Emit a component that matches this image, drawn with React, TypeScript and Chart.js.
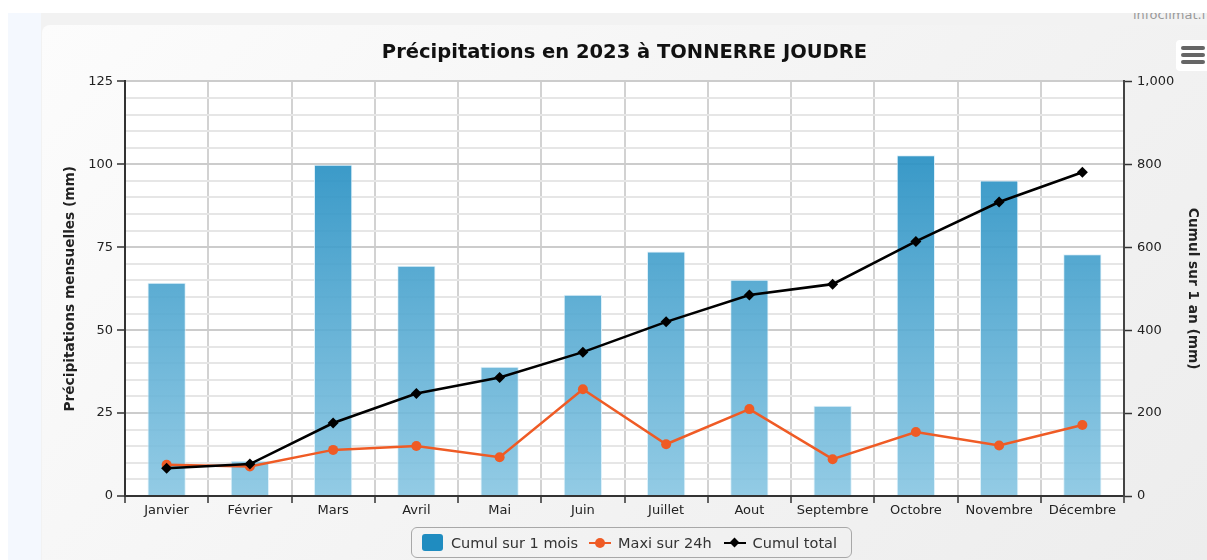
import React, { useEffect, useRef } from 'react';
import { Chart, registerables } from 'chart.js';

Chart.register(...registerables);

const titleText = 'Précipitations en 2023 à TONNERRE JOUDRE';
const months = ['Janvier', 'Février', 'Mars', 'Avril', 'Mai', 'Juin', 'Juillet', 'Aout', 'Septembre', 'Octobre', 'Novembre', 'Décembre'];
const cumulMois = [64.3, 10.6, 99.9, 69.4, 39.0, 60.7, 73.7, 65.2, 27.2, 102.7, 95.1, 72.9];
const maxi24h = [9.4, 8.9, 13.9, 15.1, 11.7, 32.2, 15.6, 26.2, 11.1, 19.3, 15.2, 21.4];
const cumulTotal = [67, 77, 176, 247, 286, 347, 420, 485, 511, 614, 709, 781];
const leftMajorTicks = [0, 25, 50, 75, 100, 125];
const rightTicks = [0, 200, 400, 600, 800, 1000];
const legendLabels = ['Cumul sur 1 mois', 'Maxi sur 24h', 'Cumul total'];

const FONT = "'DejaVu Sans', Verdana, sans-serif";

const plotBg = {
  id: 'plotBg',
  beforeDraw(chart: any) {
    const { ctx, chartArea: a } = chart;
    if (!a) return;
    ctx.save();
    ctx.fillStyle = '#ffffff';
    ctx.fillRect(a.left, a.top, a.right - a.left, a.bottom - a.top);
    ctx.restore();
  },
};

export default function App() {
  const ref = useRef<HTMLCanvasElement | null>(null);

  useEffect(() => {
    if (!ref.current) return;
    Chart.defaults.font.family = FONT;
    const isMajor = (v: number) => leftMajorTicks.includes(v);
    const chart = new Chart(ref.current, {
      type: 'bar',
      data: {
        labels: months,
        datasets: [
          {
            type: 'bar',
            label: legendLabels[0],
            data: cumulMois,
            yAxisID: 'y',
            order: 3,
            barPercentage: 0.46,
            categoryPercentage: 1,
            borderWidth: 1,
            borderColor: 'rgba(220,240,250,0.9)',
            backgroundColor: (c: any) => {
              const a = c.chart.chartArea;
              if (!a) return 'rgba(60,160,205,0.9)';
              const g = c.chart.ctx.createLinearGradient(0, a.top, 0, a.bottom);
              g.addColorStop(0, 'rgba(22,134,189,0.94)');
              g.addColorStop(1, 'rgba(132,196,225,0.88)');
              return g;
            },
          },
          {
            type: 'line',
            label: legendLabels[1],
            data: maxi24h,
            yAxisID: 'y',
            order: 2,
            borderColor: '#ef5b25',
            backgroundColor: '#ef5b25',
            borderWidth: 2.5,
            pointStyle: 'circle',
            pointRadius: 5,
            pointBorderWidth: 0,
            tension: 0,
          },
          {
            type: 'line',
            label: legendLabels[2],
            data: cumulTotal,
            yAxisID: 'y1',
            order: 1,
            borderColor: '#000000',
            backgroundColor: '#000000',
            borderWidth: 2.6,
            pointStyle: 'rectRot',
            pointRadius: 5.5,
            pointBorderWidth: 0,
            tension: 0,
          },
        ],
      },
      options: {
        animation: false,
        responsive: true,
        maintainAspectRatio: false,
        layout: { padding: { top: 0, bottom: 34, left: 0, right: 0 } },
        plugins: {
          legend: { display: false },
          tooltip: { enabled: false },
          title: {
            display: true,
            text: titleText,
            color: '#111',
            font: { size: 19.5, weight: 'bold', family: FONT },
            padding: { top: 16, bottom: 17 },
          },
        },
        scales: {
          x: {
            type: 'category',
            offset: true,
            grid: { offset: true, color: '#d2d2d2', lineWidth: 2, tickLength: 7, tickColor: '#333', tickWidth: 1.5 },
            border: { color: '#333', width: 2 },
            ticks: { color: '#222', font: { size: 13 }, padding: 0, maxRotation: 0, autoSkip: false },
            afterFit(s: any) { s.height = 30; },
          },
          y: {
            position: 'left',
            min: 0,
            max: 125,
            ticks: {
              stepSize: 5,
              autoSkip: false,
              color: '#222',
              font: { size: 13 },
              padding: 4,
              callback: (v: any) => (isMajor(Number(v)) ? String(v) : ''),
            },
            grid: {
              color: (c: any) => (c.tick && isMajor(c.tick.value) ? '#cccccc' : '#e6e6e6'),
              lineWidth: 2,
              tickLength: 8,
              tickWidth: 1.5,
              tickColor: (c: any) => (c.tick && isMajor(c.tick.value) ? '#333' : 'rgba(0,0,0,0)'),
            },
            border: { color: '#333', width: 2 },
            title: {
              display: true,
              text: 'Précipitations mensuelles (mm)',
              color: '#222',
              font: { size: 13.7, weight: 'bold' },
              padding: { top: 20, bottom: 0 },
            },
            afterFit(s: any) { s.width = 83; },
          },
          y1: {
            position: 'right',
            min: 0,
            max: 1000,
            afterBuildTicks(s: any) { s.ticks = rightTicks.map((v) => ({ value: v })); },
            ticks: { color: '#222', font: { size: 13 }, padding: 5 },
            grid: { display: true, drawOnChartArea: false, tickLength: 8, tickColor: '#333', tickWidth: 1.5 },
            border: { color: '#444', width: 2 },
            title: {
              display: true,
              text: 'Cumul sur 1 an (mm)',
              color: '#222',
              font: { size: 13.7, weight: 'bold' },
              padding: { top: 6, bottom: 0 },
            },
            afterFit(s: any) { s.width = 83; },
          },
        },
      } as any,
      plugins: [plotBg],
    } as any);
    return () => chart.destroy();
  }, []);

  const itemText: React.CSSProperties = { fontFamily: FONT, fontSize: 14.5, color: '#333', whiteSpace: 'nowrap' };

  return (
    <div style={{ position: 'fixed', left: 0, top: 0, width: 1207, height: 560, overflow: 'hidden', background: '#ffffff' }}>
      <div style={{ position: 'absolute', left: 8, top: 13, right: 0, bottom: 0, background: '#f2f2f2', overflow: 'hidden' }}>
        <div style={{ position: 'absolute', left: 1125, top: -5, fontFamily: FONT, fontSize: 13, lineHeight: '13px', color: '#9a9a9a', whiteSpace: 'nowrap' }}>infoclimat.fr</div>
      </div>
      <div style={{ position: 'absolute', left: 8, top: 13, width: 33, bottom: 0, background: '#f4f8fe' }} />
      <div style={{ position: 'absolute', left: 42, top: 25, width: 1165, height: 535, borderTopLeftRadius: 8, background: 'linear-gradient(135deg, #fcfcfc 0%, #f3f3f3 55%, #ededed 100%)' }}>
        <canvas ref={ref} />
      </div>
      <div style={{ position: 'absolute', left: 1176, top: 40, width: 40, height: 31, background: '#ffffff', borderRadius: 4 }}>
        {[6, 13, 20].map((t) => (
          <div key={t} style={{ position: 'absolute', left: 5, top: t, width: 24, height: 4, borderRadius: 2, background: '#666' }} />
        ))}
      </div>
      <div style={{ position: 'absolute', left: 411, top: 527, width: 429, height: 29, border: '1.5px solid #a8a8a8', borderRadius: 6, display: 'flex', alignItems: 'center', paddingLeft: 10, boxSizing: 'content-box' }}>
        <div style={{ width: 21, height: 17, background: '#1f8cc0', borderRadius: 3, marginRight: 8 }} />
        <span style={itemText}>{legendLabels[0]}</span>
        <div style={{ position: 'relative', width: 22, height: 10, marginLeft: 11, marginRight: 7 }}>
          <div style={{ position: 'absolute', left: 0, top: 4, width: 22, height: 2.5, background: '#ef5b25' }} />
          <div style={{ position: 'absolute', left: 6, top: 0, width: 10, height: 10, borderRadius: 5, background: '#ef5b25' }} />
        </div>
        <span style={itemText}>{legendLabels[1]}</span>
        <div style={{ position: 'relative', width: 22, height: 10, marginLeft: 12, marginRight: 7 }}>
          <div style={{ position: 'absolute', left: 0, top: 4, width: 22, height: 2.5, background: '#000' }} />
          <div style={{ position: 'absolute', left: 7, top: 1.5, width: 7, height: 7, transform: 'rotate(45deg)', background: '#000' }} />
        </div>
        <span style={itemText}>{legendLabels[2]}</span>
      </div>
    </div>
  );
}
